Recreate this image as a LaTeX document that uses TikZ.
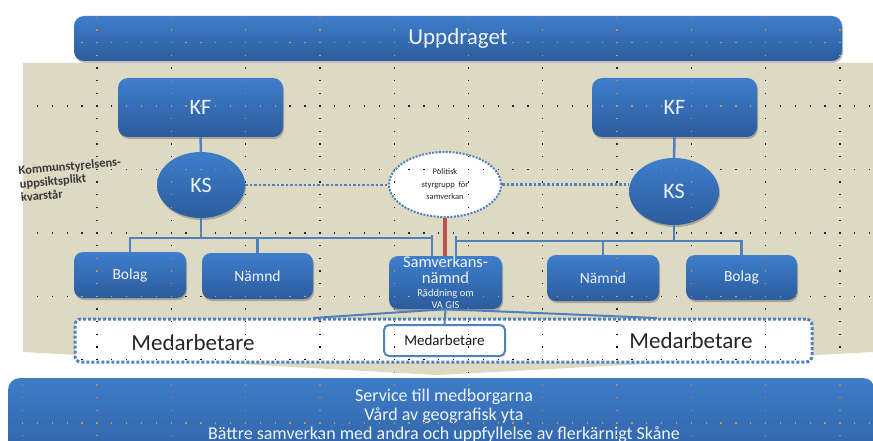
\documentclass[tikz,border=0pt]{standalone}
\usepackage{fontspec}
\setmainfont{Carlito}
\usetikzlibrary{shapes.geometric,shadows,calc}
\definecolor{boxtop}{RGB}{62,126,204}
\definecolor{boxbot}{RGB}{44,92,156}
\definecolor{beige}{RGB}{221,217,195}
\definecolor{lineblue}{RGB}{79,129,189}
\definecolor{redline}{RGB}{192,80,77}
\definecolor{boxtext}{RGB}{240,244,250}
\begin{document}
\begin{tikzpicture}[x=1pt,y=-1pt,
  shad/.style={drop shadow={shadow xshift=1pt,shadow yshift=-2pt,opacity=0.35,fill=black!70}},
  bluebox/.style={rectangle,rounded corners=9pt,top color=boxtop,bottom color=boxbot,draw=none,text=boxtext,inner sep=0pt,shad},
  blueell/.style={ellipse,top color=boxtop,bottom color=boxbot,draw=none,text=boxtext,inner sep=0pt,shad},
  polell/.style={ellipse,fill=white,draw=lineblue,line width=2pt,dash pattern=on 2pt off 1.4pt,inner sep=0pt,text=black!85},
  medbox/.style={rectangle,rounded corners=6pt,fill=white,draw=lineblue,line width=3pt,dash pattern=on 3pt off 2pt,inner sep=0pt},
  medinner/.style={rectangle,rounded corners=5pt,fill=white,draw=lineblue,line width=2pt,inner sep=0pt,text=black!90},
  conn/.style={draw=lineblue,line width=2.5pt},
  thinconn/.style={draw=lineblue,line width=2pt},
  dotconn/.style={draw=lineblue,line width=2.6pt,dash pattern=on 2.6pt off 1.9pt},
  bigfont/.style={font=\fontsize{22}{26}\selectfont},
  midfont/.style={font=\fontsize{15.5}{18}\selectfont}
]
\useasboundingbox (0,0) rectangle (873,441);
\begin{scope}
\clip (0,0) rectangle (873,441);
% beige background arrow
\fill[beige] (23,63) -- (873,63) -- (873,352) -- (437,375) -- (23,352) -- cycle;
% top bar
\node[bluebox,rounded corners=10pt,minimum width=768pt,minimum height=45pt,font=\fontsize{23}{27}\selectfont] (upp) at (458,38.5) {Uppdraget};
% KF boxes
\node[bluebox,rounded corners=10pt,minimum width=165pt,minimum height=59pt,bigfont] (kfL) at (200.5,107.5) {KF};
\node[bluebox,rounded corners=10pt,minimum width=165pt,minimum height=59pt,bigfont] (kfR) at (674.5,107.5) {KF};
% KS ellipses
\node[blueell,minimum width=88pt,minimum height=66pt,bigfont] (ksL) at (201,185) {KS};
\node[blueell,minimum width=90pt,minimum height=67pt,bigfont] (ksR) at (674,191.5) {KS};
% politisk styrgrupp
\node[polell,minimum width=112pt,minimum height=65pt,align=center,font=\fontsize{8.5}{12.5}\selectfont] (pol) at (445,184.5) {Politisk\\styrgrupp\ \ för\\samverkan};
% lower boxes
\node[bluebox,minimum width=112pt,minimum height=46pt,midfont] (bolagL) at (130,275) {Bolag};
\node[bluebox,minimum width=111pt,minimum height=46pt,midfont] (nL) at (257.5,276) {Nämnd};
\node[bluebox,minimum width=113pt,minimum height=53pt] (samv) at (445.5,282.5) {};
\node[text=boxtext,align=center,inner sep=0pt,font=\fontsize{16.5}{16}\selectfont] (samvt) at (445.5,270) {Samverkans-\\nämnd};
\node[text=boxtext,align=center,inner sep=0pt,font=\fontsize{10.5}{12}\selectfont] (samvs) at (445.5,299) {Räddning om\\VA GIS};
\node[bluebox,minimum width=112pt,minimum height=46pt,midfont] (nR) at (603,278) {Nämnd};
\node[bluebox,minimum width=111pt,minimum height=45pt,midfont] (bolagR) at (741.5,277.5) {Bolag};
% side text
\node[anchor=north west,rotate=5,align=left,inner sep=0pt,text=black!78,font=\bfseries\fontsize{12.5}{13.5}\selectfont] (kom) at (18,166) {Kommunstyrelsens-\\uppsiktsplikt\\kvarstår};
% connectors
\draw[conn] (kfL.south) -- (ksL.north);
\draw[conn] (kfR.south) -- (ksR.north);
\draw[dotconn] (ksL.east) -- (pol.west |- ksL.east);
\draw[dotconn] (pol.east) -- (ksR.west |- pol.east);
\draw[redline,line width=4pt] (pol.south) -- (pol.south |- samv.north);
\coordinate (jL) at (201,238);
\coordinate (jR) at (674,241);
\coordinate (samvL) at ($(samv.north)+(-13.5,0)$);
\coordinate (samvR) at ($(samv.north)+(10.5,0)$);
\draw[conn] (ksL.south) -- (jL);
\draw[conn] (bolagL.north) -- (bolagL.north |- jL) -- (samvL |- jL);
\draw[conn] (samvL) -- ++(0,-21);
\draw[conn] (nL.north) -- (nL.north |- jL);
\draw[conn] (ksR.south) -- (jR);
\draw[conn] (bolagR.north) -- (bolagR.north |- jR) -- (samvR |- jR);
\draw[conn] (samvR) -- ++(0,-20);
\draw[conn] (nR.north) -- (nR.north |- jR);
% Medarbetare band
\node[medbox,minimum width=737pt,minimum height=43pt] (med) at (443.5,340.5) {};
\node[inner sep=0pt,text=black!85,font=\fontsize{23}{27}\selectfont] (medL) at (193,343) {Medarbetare};
\node[inner sep=0pt,text=black!85,font=\fontsize{23}{27}\selectfont] (medR) at (691,341) {Medarbetare};
\node[medinner,minimum width=121pt,minimum height=31pt,font=\fontsize{15}{18}\selectfont] (medC) at (444.5,340.5) {Medarbetare};
\coordinate (fanL) at (313,318);
\coordinate (fanR) at (657,318);
\draw[thinconn] (fanL) -- (samv.south) -- (fanR);
\draw[thinconn] (samv.south) -- (medC.north);
% bottom bar
\node[rectangle,rounded corners=12pt,top color={rgb,255:red,62;green,124;blue,200},bottom color={rgb,255:red,46;green,96;blue,162},draw=none,inner sep=0pt,minimum width=867pt,minimum height=90pt] (bot) at (441.5,423) {};
\node[align=center,text=boxtext,inner sep=0pt,font=\fontsize{18}{19}\selectfont] (svc) at (444,416) {Service till medborgarna\\Vård av geografisk yta\\Bättre samverkan med andra och uppfyllelse av flerkärnigt Skåne};
% grid of dots
\begin{scope}[blend mode=difference]
\foreach \k in {0,...,11}{\foreach \j in {-2,...,31}{\fill[white] ({22+74.3*\k},{42+12.68*\j}) rectangle ++(1.3,1.3);}}
\foreach \m in {0,...,6}{\foreach \i in {0,...,57}{\pgfmathtruncatemacro\rr{mod(\i,5)}\ifnum\rr>0 \fill[white] ({22+14.86*\i},{42+63.4*\m}) rectangle ++(1.3,1.3);\fi}}
\end{scope}
\end{scope}
\end{tikzpicture}
\end{document}
